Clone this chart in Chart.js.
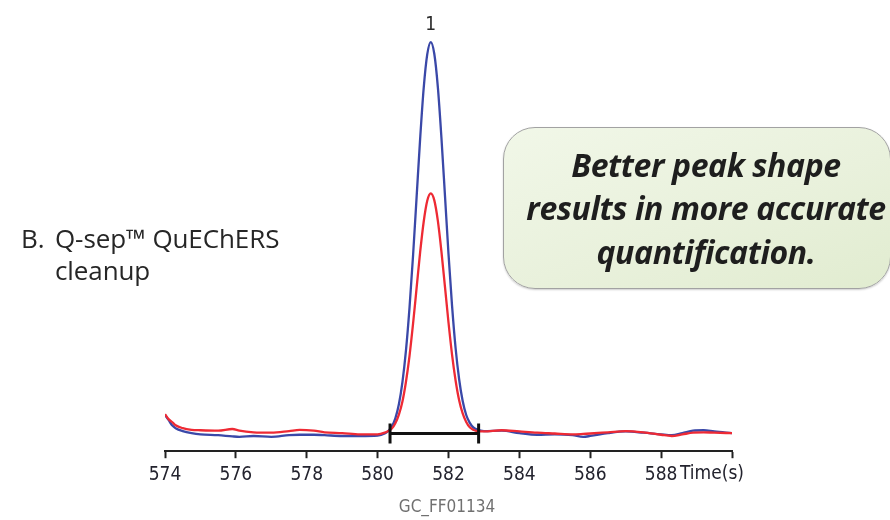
<!DOCTYPE html>
<html>
<head>
<meta charset="utf-8">
<script src="https://cdn.jsdelivr.net/npm/chart.js@4.4.1/dist/chart.umd.min.js"></script>
<style>
  html, body { margin: 0; padding: 0; background: #fff; }
  #wrap { position: relative; width: 890px; height: 520px; overflow: hidden; }
  #chart { position: absolute; left: 0; top: 0; }
  .lab { position: absolute; font-family: 'Open Sans', sans-serif; font-size: 26px; color: #262626; line-height: 32px; letter-spacing: -0.1px; }
  .note {
    position: absolute; left: 503px; top: 127px; width: 388px; height: 162px;
    box-sizing: border-box; border: 1.5px solid #a2a2a2; border-radius: 32px;
    background: linear-gradient(160deg, #f1f7e8 0%, #e9f1dc 55%, #e1ecd0 100%);
    box-shadow: 0 1px 2px rgba(0,0,0,0.2);
    display: flex; align-items: center; justify-content: center; padding-left: 18px;
    font-family: 'Open Sans', sans-serif; font-weight: 700; font-style: italic;
    font-size: 32px; line-height: 43.5px; color: #1e1e1e; text-align: center;
    letter-spacing: -0.4px; white-space: nowrap;
  }
</style>
</head>
<body>
<div id="wrap">
  <canvas id="chart" width="890" height="520"></canvas>
  <div class="lab" style="left:21px; top:222px;">B.</div>
  <div class="lab" style="left:55px; top:222px;">Q-sep™ QuEChERS<br>cleanup</div>
  <div class="note"><div>Better peak shape<br>results in more accurate<br>quantification.</div></div>
</div>
<script>
// retention time (s)
var times = [
    574, 574.1, 574.2, 574.3, 574.5, 574.75, 575, 575.5, 575.9, 576.1,
    576.5, 577, 577.5, 577.8, 578.2, 578.5, 579, 579.5, 580,
    580.2, 580.3, 580.4, 580.5, 580.6, 580.7, 580.8, 580.9, 581.0, 581.1,
    581.2, 581.3, 581.4, 581.5, 581.6, 581.7, 581.8, 581.9, 582.0, 582.1,
    582.2, 582.3, 582.4, 582.5, 582.6, 582.7, 582.8,
    583, 583.5, 584, 584.5, 585, 585.5, 585.8, 586, 586.5, 587,
    587.5, 588, 588.3, 588.6, 588.9, 589.2, 589.5, 590
];
// blue trace (relative response)
var blueTrace = [
    8.8, 7.6, 6.3, 5.6, 4.9, 4.4, 4.1, 3.9, 3.6, 3.5,
    3.7, 3.5, 3.9, 4.0, 4.0, 3.9, 3.7, 3.7, 3.8,
    4.3, 4.9, 6.0, 8.0, 11.4, 16.8, 24.5, 34.9, 47.6, 61.8,
    76.0, 88.3, 96.5, 99.5, 96.6, 88.5, 76.3, 62.2, 48.0, 35.4,
    25.1, 17.5, 12.2, 8.8, 6.9, 5.8, 5.3,
    4.9, 5.0, 4.4, 4.0, 4.1, 3.9, 3.5, 3.7, 4.4, 4.8,
    4.5, 4.1, 3.9, 4.4, 5.0, 5.1, 4.8, 4.4
];
// red trace (relative response)
var redTrace = [
    9.0, 7.8, 7.1, 6.3, 5.6, 5.2, 5.1, 5.0, 5.4, 5.0,
    4.6, 4.5, 4.9, 5.2, 5.0, 4.6, 4.4, 4.1, 4.1,
    4.5, 4.9, 5.5, 6.8, 8.9, 12.1, 16.9, 23.2, 31.0, 39.7,
    48.4, 55.8, 60.9, 62.7, 61.0, 56.0, 48.6, 40.0, 31.3, 23.5,
    17.2, 12.4, 9.2, 7.1, 5.8, 5.2, 4.9,
    4.8, 5.1, 4.8, 4.5, 4.3, 4.1, 4.2, 4.3, 4.6, 4.9,
    4.6, 4.0, 3.7, 4.1, 4.5, 4.6, 4.5, 4.4
];
// integration bracket
var bracketTimes = [580.35, 582.85];
var bracketLevel = 4.3;
var peakLabel = '1';
var xTicks = [574, 576, 578, 580, 582, 584, 586, 588, 590];

var tickFont = "'DejaVu Sans Condensed', 'Liberation Sans Narrow', sans-serif";

function pairs(ys) {
    return times.map(function (t, i) { return { x: t, y: ys[i] }; });
}

var extraText = {
    id: 'extraText',
    afterDraw: function (chart) {
        var ctx = chart.ctx;
        var xs = chart.scales.x, ys = chart.scales.y;
        // peak number over the tallest trace
        var top = blueTrace.indexOf(Math.max.apply(null, blueTrace));
        ctx.save();
        ctx.fillStyle = '#2b2b2b';
        ctx.font = "19px " + tickFont;
        ctx.textAlign = 'center';
        ctx.textBaseline = 'middle';
        ctx.fillText(peakLabel, xs.getPixelForValue(times[top]), ys.getPixelForValue(blueTrace[top]) - 17);
        // axis unit in place of the last tick
        ctx.font = "19px " + tickFont;
        ctx.fillStyle = '#23232e';
        ctx.textAlign = 'right';
        ctx.fillText('Time(s)', xs.getPixelForValue(590) + 12, chart.chartArea.bottom + 23);
        // figure code
        ctx.font = "17px " + tickFont;
        ctx.fillStyle = '#707070';
        ctx.textAlign = 'center';
        ctx.fillText('GC_FF01134', 447, 508);
        ctx.restore();
    }
};

var ctx = document.getElementById('chart').getContext('2d');
var chart = new Chart(ctx, {
    type: 'line',
    data: {
        datasets: [{
            label: 'bracket',
            data: bracketTimes.map(function (t) { return { x: t, y: bracketLevel }; }),
            borderColor: '#111',
            borderWidth: 3,
            pointStyle: 'line',
            pointRotation: 90,
            pointRadius: 10,
            pointBorderWidth: 3,
            pointBorderColor: '#111'
        }, {
            label: 'red',
            data: pairs(redTrace),
            borderColor: '#ee2a34',
            borderWidth: 2.3,
            pointRadius: 0,
            cubicInterpolationMode: 'monotone'
        }, {
            label: 'blue',
            data: pairs(blueTrace),
            borderColor: '#3a48a8',
            borderWidth: 2.3,
            pointRadius: 0,
            cubicInterpolationMode: 'monotone'
        }]
    },
    options: {
        responsive: false,
        animation: false,
        layout: {
            padding: { left: 165, right: 158, top: 40, bottom: 29 }
        },
        plugins: {
            legend: { display: false },
            tooltip: { enabled: false }
        },
        scales: {
            x: {
                type: 'linear',
                min: 574,
                max: 590,
                afterBuildTicks: function (axis) {
                    axis.ticks = xTicks.map(function (v) { return { value: v }; });
                },
                grid: {
                    drawOnChartArea: false,
                    drawTicks: true,
                    tickLength: 7,
                    tickWidth: 2,
                    tickColor: '#222'
                },
                border: { display: true, color: '#222', width: 2 },
                ticks: {
                    padding: 5,
                    color: '#23232e',
                    font: { family: tickFont, size: 19 },
                    maxRotation: 0,
                    callback: function (v) { return v === 590 ? '' : v; }
                }
            },
            y: {
                display: false,
                min: 0,
                max: 100
            }
        }
    },
    plugins: [extraText]
});
</script>
</body>
</html>
